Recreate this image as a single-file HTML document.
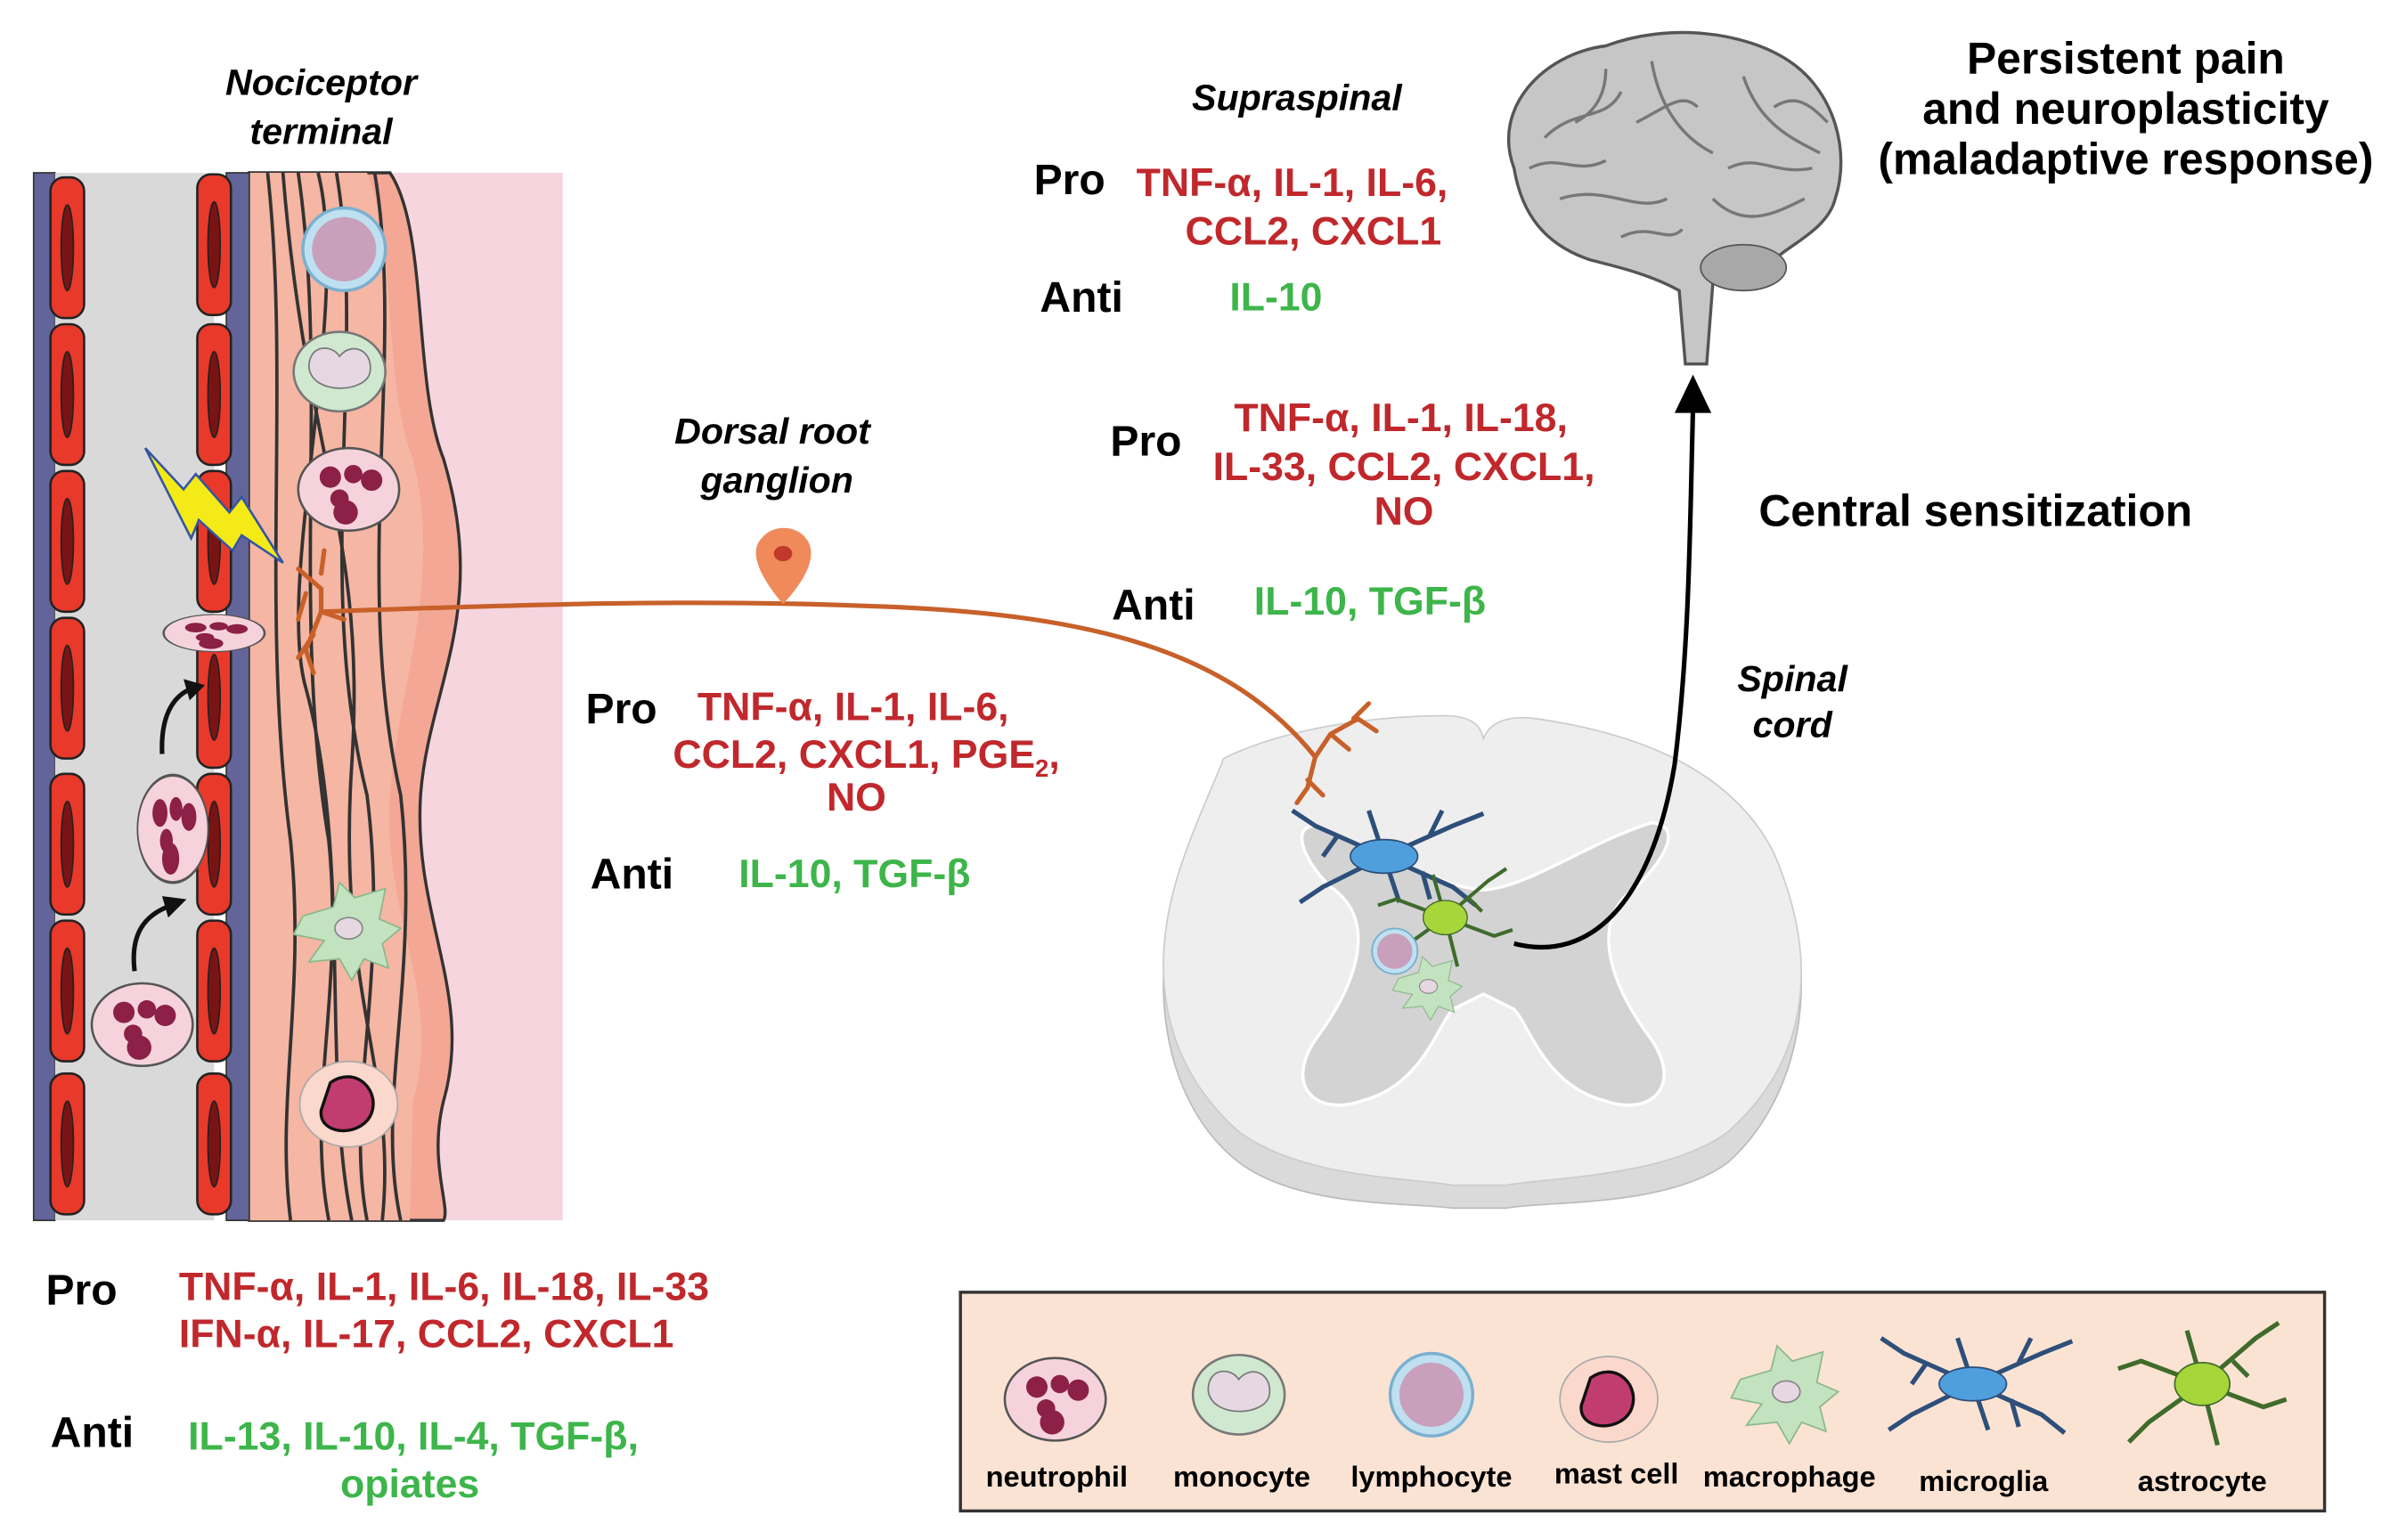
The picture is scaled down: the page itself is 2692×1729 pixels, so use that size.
<!DOCTYPE html>
<html><head><meta charset="utf-8"><style>
html,body{margin:0;padding:0;background:#fff;}
svg{display:block}
text{font-family:"Liberation Sans",sans-serif;font-weight:bold}
.r{fill:#c0282c}.g{fill:#3db54a}.k{fill:#111}
.it{font-style:italic}
</style></head><body>
<svg width="2692" height="1729" viewBox="0 0 1568 1007" preserveAspectRatio="none" xmlns="http://www.w3.org/2000/svg">
<defs>
<g id="rbc"><rect x="-11" y="-46" width="22" height="92" rx="9" fill="#e8392a" stroke="#222" stroke-width="1.5"/><ellipse cx="0" cy="0" rx="4" ry="28" fill="#7a1414" stroke="#222"/></g>
<g id="neu"><ellipse cx="0" cy="0" rx="33" ry="27" fill="#f6d3dc" stroke="#555" stroke-width="1.5"/><circle cx="-12" cy="-8" r="7" fill="#8c2046"/><circle cx="3" cy="-10" r="6" fill="#8c2046"/><circle cx="15" cy="-6" r="7" fill="#8c2046"/><circle cx="-6" cy="6" r="6" fill="#8c2046"/><circle cx="-2" cy="15" r="8" fill="#8c2046"/></g>
<g id="mono"><ellipse cx="0" cy="0" rx="30" ry="26" fill="#cfe8cf" stroke="#777" stroke-width="1.5"/><path d="M-20,-3 C-20,-18 -5,-18 0,-10 C8,-20 22,-14 20,0 C18,14 -18,16 -20,-3Z" fill="#e6d8e2" stroke="#777"/></g>
<g id="lym"><circle r="27" fill="#bfe0f0" stroke="#7ab0d0" stroke-width="2"/><circle r="21" fill="#c9a0bc"/></g>
<g id="mast"><ellipse rx="32" ry="28" fill="#fbd8cc" stroke="#aaa"/><path d="M-12,-14 C5,-26 22,-8 14,8 C6,22 -20,20 -18,4 Z" fill="#c23d6f" stroke="#111" stroke-width="2"/></g>
<g id="mac"><path d="M-30,-8 L-10,-14 L-6,-30 L4,-20 L24,-26 L20,-6 L34,0 L22,10 L26,26 L10,20 L2,34 L-6,20 L-26,22 L-16,8 L-36,4 Z" fill="#c3e2c0" stroke="#8bb88a"/><ellipse rx="9" ry="7" fill="#e6d8e2" stroke="#888"/></g>
<g id="glia"><g stroke="#2d4f7a" stroke-width="3" fill="none"><path d="M0,0 L-45,-20 L-60,-30 M-30,-14 L-40,0 M0,0 L-40,20 L-55,30 M0,0 L45,-20 L65,-28 M30,-14 L38,-30 M0,0 L45,20 L60,32 M25,10 L30,28 M0,0 L-10,-30 M0,0 L10,30"/></g><ellipse rx="22" ry="11" fill="#4f9fdc" stroke="#2d4f7a"/></g>
<g id="astro"><g stroke="#3f6b2b" stroke-width="3" fill="none"><path d="M0,0 L-40,-15 L-55,-10 M0,0 L-35,25 L-48,38 M0,0 L35,-30 L50,-40 M0,0 L40,15 L55,10 M0,0 L10,40 M0,0 L-10,-35 M20,-15 L30,-5"/></g><ellipse rx="18" ry="14" fill="#a6d63a" stroke="#3f6b2b"/></g>
</defs>

<!-- vessel & tissue -->
<rect x="163" y="113" width="205" height="685" fill="#f6d5df"/>
<path d="M163,113 L255,113 C280,150 270,250 290,300 C320,400 280,450 275,520 C270,600 310,650 290,720 C280,760 295,790 290,798 L163,798 Z" fill="#f3a794" stroke="#333" stroke-width="2"/>
<path d="M163,113 L240,113 C260,160 250,250 270,300 C290,380 260,450 255,520 C250,600 290,650 270,720 L268,798 L163,798Z" fill="#f5b6a3"/>
<g stroke="#333" stroke-width="2.2" fill="none">
<path d="M175,113 C190,250 170,400 190,550 C200,650 180,720 190,798"/>
<path d="M195,113 C215,250 190,400 215,550 C225,650 200,720 215,798"/>
<path d="M220,113 C240,230 205,380 240,520 C255,640 225,720 240,798"/>
<path d="M245,113 C265,230 230,380 262,520 C275,640 245,720 262,798"/>
<path d="M185,113 C200,300 240,350 230,500 C220,650 260,700 250,798"/>
<path d="M208,113 C230,200 180,380 200,450 C230,560 210,700 230,798"/>
</g>
<rect x="22" y="113" width="14" height="685" fill="#636499" stroke="#333"/>
<rect x="36" y="113" width="104" height="685" fill="#d9d9d9"/>
<rect x="148" y="113" width="15" height="685" fill="#636499" stroke="#333"/>
<g>
<use href="#rbc" x="44" y="162"/><use href="#rbc" x="44" y="258"/><use href="#rbc" x="44" y="354"/><use href="#rbc" x="44" y="450"/><use href="#rbc" x="44" y="552"/><use href="#rbc" x="44" y="648"/><use href="#rbc" x="44" y="748"/>
<use href="#rbc" x="140" y="160"/><use href="#rbc" x="140" y="258"/><use href="#rbc" x="140" y="354"/><use href="#rbc" x="140" y="456"/><use href="#rbc" x="140" y="552"/><use href="#rbc" x="140" y="648"/><use href="#rbc" x="140" y="748"/>
</g>
<use href="#lym" x="225" y="163"/>
<use href="#mono" x="222" y="243"/>
<use href="#neu" x="228" y="320"/>
<use href="#mac" x="228" y="607"/>
<use href="#mast" x="228" y="722"/>
<g transform="translate(140,414) scale(1,0.45)"><use href="#neu"/></g>
<g transform="translate(113,542) scale(0.7,1.3)"><use href="#neu"/></g>
<use href="#neu" x="93" y="670"/>
<path d="M88,635 C85,610 95,598 112,592" stroke="#111" stroke-width="3" fill="none"/><path d="M106,586 L122,588 L110,600Z" fill="#111"/>
<path d="M106,493 C105,470 112,455 126,450" stroke="#111" stroke-width="3" fill="none"/><path d="M120,444 L134,448 L124,458Z" fill="#111"/>
<path d="M95,293 L120,320 L128,310 L150,335 L158,325 L185,368 L158,350 L152,360 L130,340 L125,352Z" fill="#f4ea17" stroke="#3455a4" stroke-width="1.5"/>

<!-- spinal cord -->
<path d="M800,500 C840,480 900,470 945,470 C960,470 968,475 970,485 C975,472 990,470 1005,472 C1060,480 1130,500 1160,560 C1195,640 1175,720 1130,760 C1090,790 1010,785 985,790 L970,790 L950,790 C920,786 850,790 810,760 C765,725 745,650 775,560 C785,535 795,515 800,500Z" fill="#dadada" stroke="#bbb"/>
<path d="M800,496 C840,476 900,468 945,468 C960,468 968,473 970,483 C975,470 990,468 1005,470 C1060,478 1130,498 1160,558 C1195,640 1175,700 1130,740 C1090,770 1010,770 985,775 L970,775 L950,775 C920,770 850,770 810,740 C765,700 745,640 775,558 C785,530 795,510 800,496Z" fill="#eeeeee" stroke="#ccc"/>
<path d="M860,540 C900,555 940,580 970,582 C1000,580 1040,550 1080,538 C1100,540 1090,560 1070,580 C1040,600 1050,640 1080,680 C1100,710 1080,730 1050,720 C1010,710 1000,670 990,660 L970,650 L950,660 C940,670 930,710 890,720 C860,730 840,710 860,680 C890,640 900,600 870,580 C850,560 845,540 860,540Z" fill="#d3d3d3" stroke="#fff" stroke-width="2"/>
<use href="#glia" x="905" y="560"/>
<g transform="translate(945,600) scale(0.8)"><use href="#astro"/></g>
<g transform="translate(912,622) scale(0.55)"><use href="#lym"/></g>
<g transform="translate(934,645) scale(0.65)"><use href="#mac"/></g>
<path d="M990,617 C1040,630 1080,590 1095,500 C1105,420 1105,340 1107,268" stroke="#000" stroke-width="3" fill="none"/>
<path d="M1095,270 L1107,245 L1119,270Z" fill="#000"/>

<!-- nerve -->
<g stroke="#c8602a" stroke-width="3" fill="none" stroke-linecap="round">
<path d="M210,400 C350,395 450,392 560,396 C700,400 800,420 860,495"/>
<path d="M195,372 L210,385 L210,400 L200,425 L205,440 M210,400 L225,405 M200,388 L195,405 M205,415 L195,430 M210,375 L212,360"/>
<path d="M860,495 L870,480 L888,470 L900,478 M870,480 L882,490 M860,495 L855,515 L848,525 M855,510 L865,520 M885,470 L895,460"/>
</g>
<path d="M512,395 C495,375 490,360 498,352 C505,343 520,343 527,352 C535,362 528,378 512,395Z" fill="#f08a5a"/>
<ellipse cx="512" cy="362" rx="6" ry="5" fill="#c0392b"/>

<!-- brain -->
<path d="M990,110 C975,70 1010,35 1050,30 C1090,15 1140,20 1170,40 C1200,60 1210,100 1200,130 C1195,150 1170,160 1160,170 C1150,185 1130,190 1120,185 L1116,238 L1102,238 L1098,190 C1080,180 1060,175 1040,170 C1010,160 995,140 990,110Z" fill="#c6c6c6" stroke="#555" stroke-width="2"/>
<g stroke="#777" stroke-width="2" fill="none"><path d="M1010,90 C1030,70 1050,80 1060,60 M1080,40 C1085,70 1100,90 1120,100 M1140,50 C1150,80 1170,90 1190,100 M1020,130 C1050,120 1070,140 1090,130 M1120,130 C1140,150 1160,140 1180,130 M1050,45 C1050,65 1040,75 1030,80 M1000,110 C1020,100 1030,115 1050,105 M1070,80 C1090,70 1100,60 1110,70 M1130,110 C1150,100 1160,115 1185,110 M1060,155 C1080,145 1090,160 1100,150 M1160,70 C1175,60 1185,70 1195,80"/></g>
<ellipse cx="1140" cy="175" rx="28" ry="15" fill="#a8a8a8" stroke="#555"/>

<!-- texts -->
<text class="it" x="210" y="62" font-size="24" text-anchor="middle">Nociceptor</text>
<text class="it" x="210" y="94" font-size="24" text-anchor="middle">terminal</text>
<text class="it" x="505" y="290" font-size="24" text-anchor="middle">Dorsal root</text>
<text class="it" x="508" y="322" font-size="24" text-anchor="middle">ganglion</text>
<text class="it" x="848" y="72" font-size="24" text-anchor="middle">Supraspinal</text>
<text class="it" x="1172" y="452" font-size="24" text-anchor="middle">Spinal</text>
<text class="it" x="1172" y="482" font-size="24" text-anchor="middle">cord</text>
<text x="1390" y="48" font-size="29" text-anchor="middle">Persistent pain</text>
<text x="1390" y="81" font-size="29" text-anchor="middle">and neuroplasticity</text>
<text x="1390" y="114" font-size="29" text-anchor="middle">(maladaptive response)</text>
<text x="1150" y="344" font-size="29">Central sensitization</text>

<text x="676" y="127" font-size="28">Pro</text>
<text class="r" x="743" y="128" font-size="26">TNF-α, IL-1, IL-6,</text>
<text class="r" x="775" y="160" font-size="26">CCL2, CXCL1</text>
<text x="680" y="204" font-size="28">Anti</text>
<text class="g" x="804" y="203" font-size="26">IL-10</text>

<text x="726" y="298" font-size="28">Pro</text>
<text class="r" x="916" y="282" font-size="26" text-anchor="middle">TNF-α, IL-1, IL-18,</text>
<text class="r" x="918" y="314" font-size="26" text-anchor="middle">IL-33, CCL2, CXCL1,</text>
<text class="r" x="918" y="343" font-size="26" text-anchor="middle">NO</text>
<text x="727" y="405" font-size="28">Anti</text>
<text class="g" x="820" y="402" font-size="26">IL-10, TGF-β</text>

<text x="383" y="473" font-size="28">Pro</text>
<text class="r" x="456" y="471" font-size="26">TNF-α, IL-1, IL-6,</text>
<text class="r" x="440" y="502" font-size="26">CCL2, CXCL1, PGE<tspan font-size="16" dy="6">2</tspan><tspan dy="-6">,</tspan></text>
<text class="r" x="560" y="530" font-size="26" text-anchor="middle">NO</text>
<text x="386" y="581" font-size="28">Anti</text>
<text class="g" x="483" y="580" font-size="26">IL-10, TGF-β</text>

<text x="30" y="853" font-size="28">Pro</text>
<text class="r" x="117" y="850" font-size="26">TNF-α, IL-1, IL-6, IL-18, IL-33</text>
<text class="r" x="117" y="881" font-size="26">IFN-α, IL-17, CCL2, CXCL1</text>
<text x="33" y="946" font-size="28">Anti</text>
<text class="g" x="123" y="948" font-size="26">IL-13, IL-10, IL-4, TGF-β,</text>
<text class="g" x="268" y="979" font-size="26" text-anchor="middle">opiates</text>

<!-- legend -->
<rect x="628" y="845" width="892" height="143" fill="#fbe3d3" stroke="#333" stroke-width="2"/>
<use href="#neu" x="690" y="915"/>
<use href="#mono" x="810" y="912"/>
<use href="#lym" x="936" y="912"/>
<use href="#mast" x="1052" y="915"/>
<use href="#mac" x="1168" y="910"/>
<use href="#glia" x="1290" y="905"/>
<use href="#astro" x="1440" y="905"/>
<g font-size="19" text-anchor="middle">
<text x="691" y="972">neutrophil</text><text x="812" y="972">monocyte</text><text x="936" y="972">lymphocyte</text><text x="1057" y="970">mast cell</text><text x="1170" y="972">macrophage</text><text x="1297" y="975">microglia</text><text x="1440" y="975">astrocyte</text>
</g>
</svg>
</body></html>
